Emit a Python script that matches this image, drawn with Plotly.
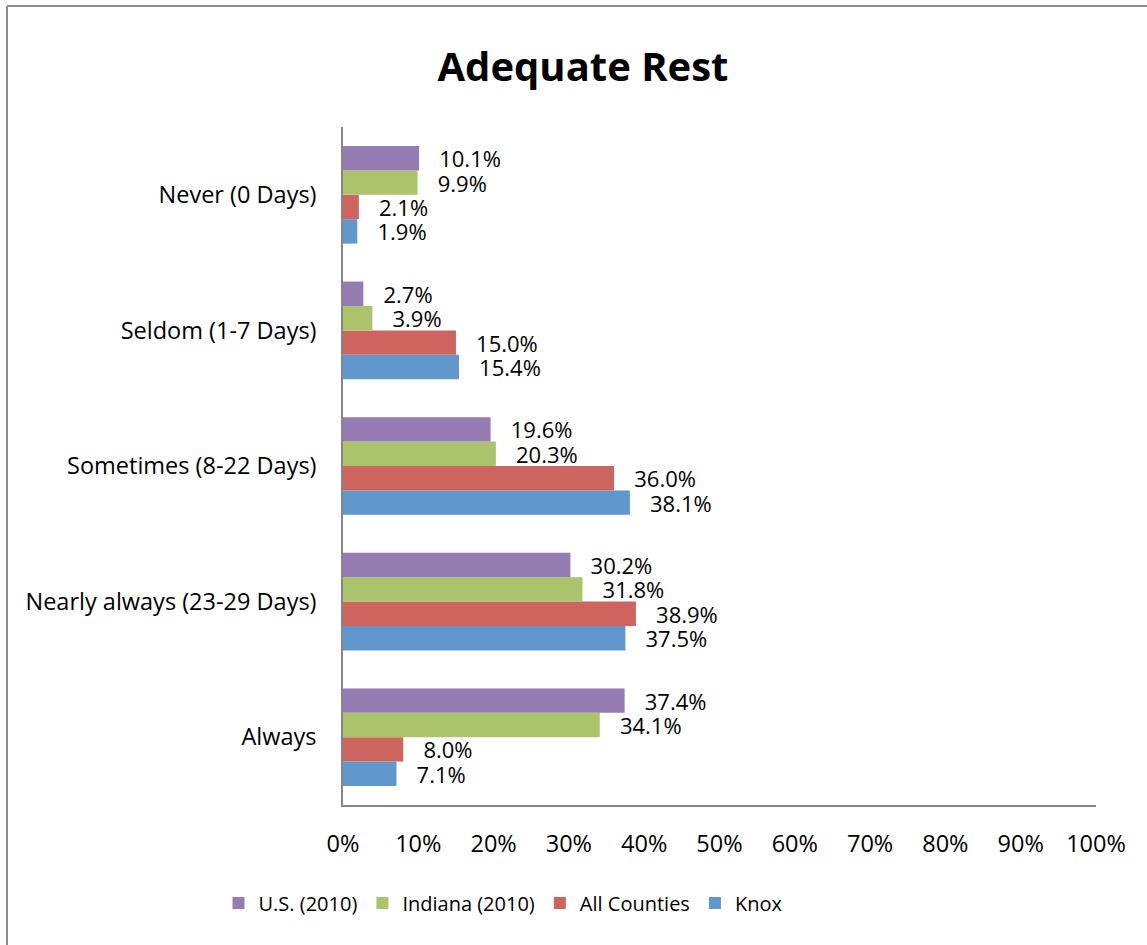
import plotly.graph_objects as go

categories = ["Never (0 Days)", "Seldom (1-7 Days)", "Sometimes (8-22 Days)",
              "Nearly always (23-29 Days)", "Always"]
us_2010 = [10.1, 2.7, 19.6, 30.2, 37.4]
indiana_2010 = [9.9, 3.9, 20.3, 31.8, 34.1]
all_counties = [2.1, 15.0, 36.0, 38.9, 8.0]
knox = [1.9, 15.4, 38.1, 37.5, 7.1]
tick_vals = [0, 10, 20, 30, 40, 50, 60, 70, 80, 90, 100]
tick_text = [f"{v}%" for v in tick_vals]

series = [
    ("Knox", knox, "#6097cd", 4),
    ("All Counties", all_counties, "#cd645d", 3),
    ("Indiana (2010)", indiana_2010, "#abc46c", 2),
    ("U.S. (2010)", us_2010, "#957cb2", 1),
]

FONT = "Open Sans, sans-serif"
FS = 23.5
LBL = 22
pad = "\u00a0" * 3

fig = go.Figure()
for name, vals, color, rank in series:
    fig.add_trace(go.Bar(
        y=categories, x=vals, name=name, orientation="h",
        marker=dict(color=color, line=dict(width=0)),
        text=[f"{pad}{v:.1f}%" for v in vals],
        textposition="outside", constraintext="none", cliponaxis=False,
        textfont=dict(family=FONT, size=LBL, color="#000000"),
        legendrank=rank,
    ))

L, T, R, B = 343, 127, 1096, 805
W, H = R - L, B - T
def px(x): return (x - L) / W
def py(y): return (B - y) / H
border = dict(color="#8c8c8c", width=2)
shapes = [
    dict(type="line", xref="paper", yref="paper", x0=px(7), x1=px(7), y0=py(6), y1=py(960), line=border),
    dict(type="line", xref="paper", yref="paper", x0=px(7), x1=px(1160), y0=py(6), y1=py(6), line=border),
]

fig.update_layout(
    width=1147, height=945,
    margin=dict(l=L, r=1147 - R, t=T, b=945 - B),
    paper_bgcolor="white", plot_bgcolor="white",
    barmode="group", bargap=0.28, bargroupgap=0,
    title=dict(text="<b>Adequate Rest</b>", x=px(583), xref="paper", xanchor="center",
               y=1 - 67 / 945, yanchor="middle",
               font=dict(family=FONT, size=40, color="#000000")),
    showlegend=True,
    legend=dict(orientation="h", x=px(503), xanchor="center", y=py(903), yanchor="middle",
                font=dict(family=FONT, size=20, color="#000000"),
                itemwidth=30, traceorder="normal"),
    shapes=shapes,
    font=dict(family=FONT, color="#000000"),
)
fig.update_xaxes(range=[0, 100], tickvals=tick_vals, ticktext=tick_text,
                 showgrid=False, zeroline=False, showline=True, linecolor="#868686", linewidth=1.5,
                 ticks="", ticklabelstandoff=17,
                 tickfont=dict(family=FONT, size=FS, color="#000000"))
fig.update_yaxes(categoryorder="array", categoryarray=categories[::-1],
                 showgrid=False, zeroline=False, showline=True, linecolor="#868686", linewidth=1.5,
                 ticks="", ticklabelstandoff=20,
                 tickfont=dict(family=FONT, size=FS, color="#000000"))

fig.write_html("out.html", config={"displayModeBar": False},
               post_script="document.body.style.margin='0';document.body.style.padding='0';")
